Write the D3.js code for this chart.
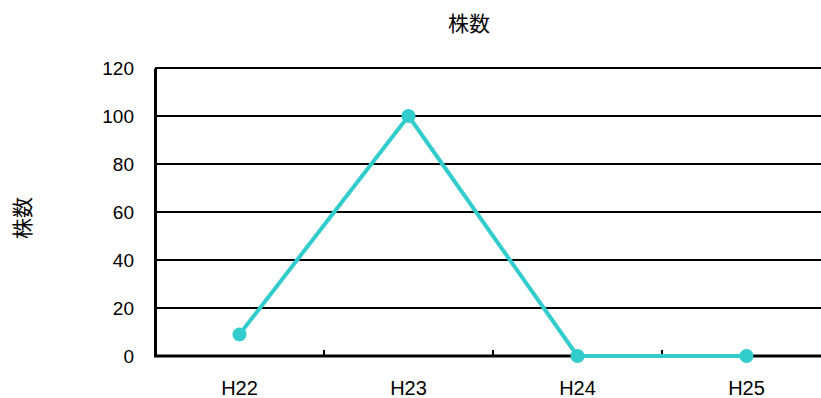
<!DOCTYPE html>
<html>
<head>
<meta charset="utf-8">
<script src="https://cdn.jsdelivr.net/npm/d3@7"></script>
<style>
  body { margin: 0; background: #fff; }
  text { font-family: "Liberation Sans", Arial, sans-serif; fill: #000; }
  .cjk { font-family: "Noto Sans CJK JP", sans-serif; }
</style>
</head>
<body>
<div id="vis"></div>
<script>
// chart data
var categories = ["H22", "H23", "H24", "H25"];
var values = [9, 100, 0, 0];
var yTicks = [0, 20, 40, 60, 80, 100, 120];
var title = "株数";
var yTitle = "株数";

var W = 821, H = 398;
var plotLeft = 155, plotTop = 68, plotBottom = 356;
var band = 169;   // width of one category slot (plot runs past the right edge)

var svg = d3.select("#vis").append("svg")
  .attr("width", W)
  .attr("height", H);

var x = d3.scaleBand()
  .domain(categories)
  .range([plotLeft, plotLeft + band * categories.length])
  .paddingInner(0).paddingOuter(0);

var y = d3.scaleLinear()
  .domain([0, 120])
  .range([plotBottom, plotTop]);

// gridlines
svg.append("g").selectAll("line")
  .data(yTicks.filter(function(d){ return d > 0; }))
  .enter().append("line")
  .attr("x1", plotLeft).attr("x2", W)
  .attr("y1", function(d){ return y(d); })
  .attr("y2", function(d){ return y(d); })
  .attr("stroke", "#000")
  .attr("stroke-width", 2);

// y axis
var yAxis = svg.append("g")
  .attr("transform", "translate(" + plotLeft + ",0)")
  .call(d3.axisLeft(y).tickValues(yTicks).tickSize(0).tickPadding(21));
yAxis.select(".domain").attr("stroke", "#000").attr("stroke-width", 3);
yAxis.selectAll("text")
  .style("font-family", "Liberation Sans, Arial, sans-serif")
  .style("font-size", "19px");

// x axis baseline + ticks between categories
svg.append("line")
  .attr("x1", plotLeft - 1).attr("x2", W)
  .attr("y1", plotBottom).attr("y2", plotBottom)
  .attr("stroke", "#000").attr("stroke-width", 3);

svg.append("g").selectAll("line")
  .data(categories.slice(1))
  .enter().append("line")
  .attr("x1", function(d){ return x(d); })
  .attr("x2", function(d){ return x(d); })
  .attr("y1", plotBottom - 6).attr("y2", plotBottom)
  .attr("stroke", "#000").attr("stroke-width", 2);

svg.append("g").selectAll("text")
  .data(categories)
  .enter().append("text")
  .attr("x", function(d){ return x(d) + x.bandwidth() / 2; })
  .attr("y", 395)
  .attr("text-anchor", "middle")
  .style("font-size", "20px")
  .text(function(d){ return d; });

// series line
var pts = categories.map(function(c, i){ return { c: c, v: values[i] }; });
var line = d3.line()
  .x(function(d){ return x(d.c) + x.bandwidth() / 2; })
  .y(function(d){ return y(d.v); });

svg.append("path")
  .datum(pts)
  .attr("d", line)
  .attr("fill", "none")
  .attr("stroke", "#33CCCC")
  .attr("stroke-width", 4)
  .attr("stroke-linejoin", "round");

svg.append("g").selectAll("circle")
  .data(pts)
  .enter().append("circle")
  .attr("cx", function(d){ return x(d.c) + x.bandwidth() / 2; })
  .attr("cy", function(d){ return y(d.v); })
  .attr("r", 7)
  .attr("fill", "#33CCCC");

// titles
svg.append("text")
  .attr("class", "cjk")
  .attr("x", 469).attr("y", 31)
  .attr("text-anchor", "middle")
  .style("font-size", "21px")
  .text(title);

svg.append("text")
  .attr("class", "cjk")
  .attr("transform", "translate(30,218) rotate(-90)")
  .attr("text-anchor", "middle")
  .style("font-size", "21px")
  .text(yTitle);
</script>
</body>
</html>
